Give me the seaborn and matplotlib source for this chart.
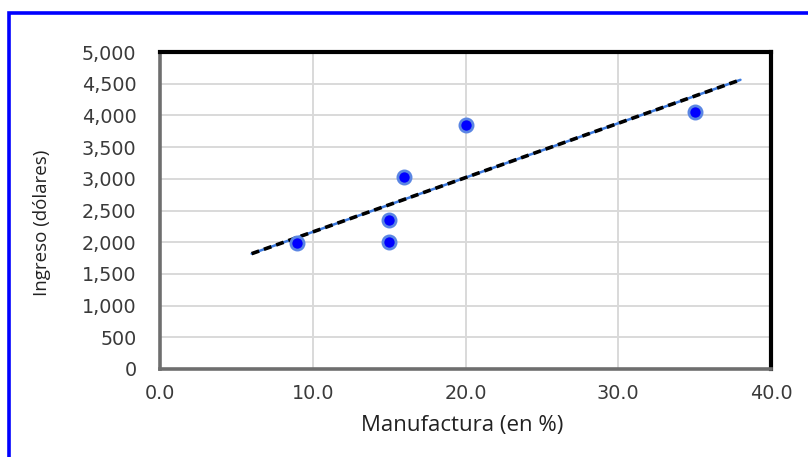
import numpy as np
import pandas as pd
import matplotlib
matplotlib.use("Agg")
import matplotlib.pyplot as plt
import matplotlib.patches as mpatches
from matplotlib.ticker import FuncFormatter
import seaborn as sns

# Data
manufactura = [9, 15, 15, 16, 20, 35]
ingreso = [1980, 2000, 2350, 3025, 3850, 4050]
trend_range = [6, 38]
x_ticks = [0, 10, 20, 30, 40]
y_ticks = list(range(0, 5001, 500))

df = pd.DataFrame({"Manufactura": manufactura, "Ingreso": ingreso})
slope, intercept = np.polyfit(manufactura, ingreso, 1)
trend = pd.DataFrame({"x": trend_range,
                      "y": [slope * v + intercept for v in trend_range]})

sns.set_style("white")
plt.rcParams["font.family"] = ["DejaVu Sans"]

fig = plt.figure(figsize=(8.08, 4.57), dpi=100)
ax = fig.add_axes([160 / 808, 1 - 369 / 457, (771 - 160) / 808, (369 - 52) / 457])

# outer blue frame
fig.patches.append(mpatches.Rectangle((9 / 808, -0.1), 1.2, 1 - 13.5 / 457 + 0.1,
                                      transform=fig.transFigure, fill=False,
                                      edgecolor="#0000ff", linewidth=2.6,
                                      clip_on=False))

ax.set_xlim(0, 40)
ax.set_ylim(0, 5000)
ax.set_xticks(x_ticks)
ax.set_yticks(y_ticks)
ax.grid(True, color="#d9d9d9", linewidth=1.4)
ax.set_axisbelow(True)

# trend line: blue core with black dashes on top
sns.lineplot(data=trend, x="x", y="y", ax=ax, color="#3d7be0", linewidth=1.8, zorder=3)
sns.lineplot(data=trend, x="x", y="y", ax=ax, color="black", linewidth=2.6,
             dashes=False, zorder=4).lines[-1].set_dashes((2.2, 1.4))

sns.scatterplot(data=df, x="Manufactura", y="Ingreso", ax=ax, s=90,
                color="#0000ff", edgecolor="#5b86e3", linewidth=2.0, zorder=5)

ax.xaxis.set_major_formatter(FuncFormatter(lambda v, p: f"{v:.1f}"))
ax.yaxis.set_major_formatter(FuncFormatter(lambda v, p: f"{int(v):,}"))
ax.tick_params(axis="both", length=0, labelsize=13.8, colors="#3a3a3a")
ax.tick_params(axis="x", pad=11)
ax.tick_params(axis="y", pad=17)

for s in ["top", "right"]:
    ax.spines[s].set_color("black")
    ax.spines[s].set_linewidth(3)
for s in ["left", "bottom"]:
    ax.spines[s].set_color("#6e6e6e")
    ax.spines[s].set_linewidth(2.6)

ax.set_xlabel("Manufactura (en %)", fontsize=16, family=["Open Sans", "DejaVu Sans"],
              color="#222222")
ax.set_ylabel("Ingreso (dólares)", fontsize=13.5,
              family=["Open Sans", "DejaVu Sans"], color="#222222")
ax.xaxis.set_label_coords((462.5 - 160) / 611, (369 - 425) / 317)
ax.yaxis.set_label_coords((42 - 160) / 611, (369 - 223) / 317)
ax.xaxis.label.set_va("center")
ax.yaxis.label.set_va("center")

fig.savefig("out.png", dpi=100)
